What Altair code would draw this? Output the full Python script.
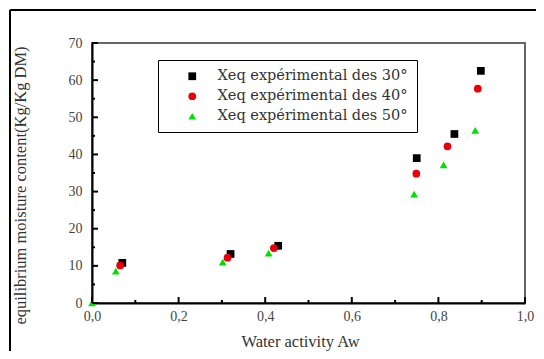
import altair as alt
import pandas as pd

series_names = ["Xeq expérimental des 30°", "Xeq expérimental des 40°", "Xeq expérimental des 50°"]
aw30 = [0.07, 0.32, 0.43, 0.75, 0.837, 0.898]
xeq30 = [10.8, 13.2, 15.4, 39.0, 45.5, 62.5]
aw40 = [0.065, 0.313, 0.42, 0.749, 0.821, 0.891]
xeq40 = [10.1, 12.2, 14.8, 34.8, 42.2, 57.7]
aw50 = [0.0, 0.055, 0.302, 0.408, 0.744, 0.812, 0.885]
xeq50 = [0.0, 8.6, 11.0, 13.4, 29.3, 37.2, 46.5]

x_major = [0.0, 0.2, 0.4, 0.6, 0.8, 1.0]
x_minor = [0.1, 0.3, 0.5, 0.7, 0.9]
y_major = [0, 10, 20, 30, 40, 50, 60, 70]
y_minor = [5, 15, 25, 35, 45, 55, 65]

rows = []
for name, xs, ys in zip(series_names, [aw30, aw40, aw50], [xeq30, xeq40, xeq50]):
    for a, b in zip(xs, ys):
        rows.append({"series": name, "aw": a, "xeq": b})
df = pd.DataFrame(rows)

W, H = 433, 260
xscale = alt.Scale(domain=[0, 1], nice=False, zero=False)
yscale = alt.Scale(domain=[0, 70], nice=False)

x_axis = alt.Axis(title="Water activity Aw", values=x_major, format=".1f",
                  labelExpr="replace(datum.label, '.', ',')", labelFlush=False,
                  ticks=False, grid=False, domainColor="black", domainWidth=2,
                  labelPadding=6, titleX=208, titleY=38, titleBaseline="middle")
y_axis = alt.Axis(title="equilibrium moisture content(Kg/Kg DM)", values=y_major, labelFlush=False,
                  ticks=False, grid=False, domainColor="black", domainWidth=2,
                  labelPadding=10, titleX=-72, titleY=142, titleBaseline="middle")

points = alt.Chart(df).mark_point(filled=True, opacity=1, strokeWidth=0).encode(
    x=alt.X("aw:Q", scale=xscale, axis=x_axis),
    y=alt.Y("xeq:Q", scale=yscale, axis=y_axis),
    color=alt.Color("series:N", scale=alt.Scale(domain=series_names, range=["#000000", "#e8000b", "#00e000"]),
                    legend=alt.Legend(title=None, orient="none", legendX=66, legendY=17,
                                      strokeColor="black", padding=9, rowPadding=5,
                                      labelFont="DejaVu Serif", labelFontSize=14.5,
                                      labelColor="#333", labelLimit=400, symbolOffset=18,
                                      labelOffset=18, fillColor="white")),
    shape=alt.Shape("series:N", scale=alt.Scale(domain=series_names, range=["square", "circle", "triangle-up"])),
    size=alt.Size("series:N", scale=alt.Scale(domain=series_names, range=[60, 60, 120]), legend=None),
)

xt_major = alt.Chart(pd.DataFrame({"t": x_major})).mark_rule(color="black", strokeWidth=2).encode(
    x=alt.X("t:Q", scale=xscale, axis=x_axis), y=alt.value(H), y2=alt.value(H - 6))
xt_minor = alt.Chart(pd.DataFrame({"t": x_minor})).mark_rule(color="black", strokeWidth=2).encode(
    x=alt.X("t:Q", scale=xscale, axis=x_axis), y=alt.value(H), y2=alt.value(H - 3))
yt_major = alt.Chart(pd.DataFrame({"t": y_major})).mark_rule(color="black", strokeWidth=2).encode(
    y=alt.Y("t:Q", scale=yscale, axis=y_axis), x=alt.value(0), x2=alt.value(6))
yt_minor = alt.Chart(pd.DataFrame({"t": y_minor})).mark_rule(color="black", strokeWidth=2).encode(
    y=alt.Y("t:Q", scale=yscale, axis=y_axis), x=alt.value(0), x2=alt.value(3))

frame_df = pd.DataFrame({"k": [0]})
frame_top = alt.Chart(frame_df).mark_rule(color="black", strokeWidth=2).encode(
    x=alt.value(-82), x2=alt.value(470), y=alt.value(-33))
frame_left = alt.Chart(frame_df).mark_rule(color="black", strokeWidth=2).encode(
    x=alt.value(-82), y=alt.value(-33), y2=alt.value(330))

chart = alt.layer(points, frame_top, frame_left, xt_major, xt_minor, yt_major, yt_minor).resolve_scale(
    x="shared", y="shared"
).properties(
    width=W, height=H,
    autosize=alt.AutoSizeParams(type="none"),
    padding={"left": 84, "top": 35, "right": 11, "bottom": 48},
).configure_view(
    stroke="#666", strokeWidth=2
).configure_axis(
    labelFont="Liberation Serif", labelFontSize=14, labelColor="#444",
    titleFont="Liberation Serif", titleFontSize=16.5, titleFontWeight="normal", titleColor="#333"
)

chart.save("out.html", embed_options={"renderer": "svg", "actions": False})
